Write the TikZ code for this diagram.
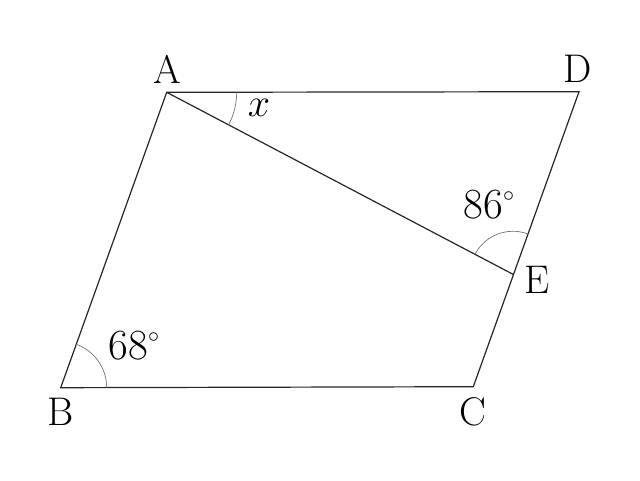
\RequirePackage{fix-cm}
\documentclass[tikz,border=0pt]{standalone}
\usetikzlibrary{calc}
\newcommand{\degsym}{\raisebox{0.40em}{\fontsize{22}{22}\selectfont$\circ$}}
\begin{document}
\begin{tikzpicture}[x=1pt,y=-1pt,
  edge/.style={line width=1.2pt,black!85},
  anglearc/.style={line width=0.7pt,black!55},
  lbl/.style={font=\fontsize{40}{44}\selectfont,inner sep=0pt},
  num/.style={font=\fontsize{43}{46}\selectfont,inner sep=0pt}]
\useasboundingbox (0,0) rectangle (640,480);
\coordinate (A) at (166.7,92.3);
\coordinate (D) at (579,91.7);
\coordinate (B) at (60.7,387.7);
\coordinate (C) at (473.3,386.7);
\coordinate (E) at (513,274.3);
\draw[edge] (A) -- (D) -- (C) -- (B) -- cycle;
\draw[edge] (A) -- (E);
% angle arcs
\draw[anglearc] ($(A)!70pt!(D)$) arc[start angle=0, end angle=27.7, radius=70];
\draw[anglearc] ($(E)!43pt!(A)$) arc[start angle=-152.3, end angle=-70.1, radius=43];
\draw[anglearc] ($(B)!46pt!(C)$) arc[start angle=0, end angle=-70.3, radius=46];
% labels
\node[lbl] (lA) at (167,69) {A};
\node[lbl] (lD) at (578,69) {D};
\node[lbl] (lB) at (61,412) {B};
\node[lbl] (lC) at (473,412) {C};
\node[lbl] (lE) at (537,280) {E};
\node[lbl] (lx) at (259,108) {$x$};
\node[num] (l86) at (489,205) {86\degsym};
\node[num] (l68) at (134,346) {68\degsym};
\end{tikzpicture}
\end{document}
